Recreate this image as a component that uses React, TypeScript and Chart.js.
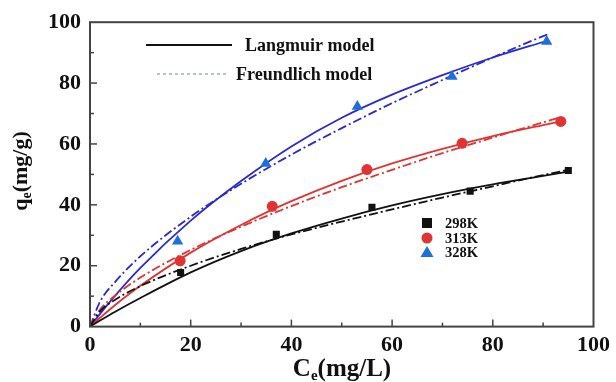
import React, { useEffect, useRef } from 'react';
import { Chart, registerables } from 'chart.js';
Chart.register(...registerables);

// ---- data ----
const tickValues = [0, 20, 40, 60, 80, 100];
const seriesNames = ['298K', '313K', '328K'];

const pointsX298 = [18, 37, 56, 75.5, 95];
const pointsY298 = [17.8, 30.3, 39.2, 44.5, 51.3];
const pointsX313 = [17.9, 36.2, 55, 73.9, 93.5];
const pointsY313 = [21.6, 39.5, 51.6, 60.2, 67.4];
const pointsX328 = [17.4, 34.9, 53.1, 71.9, 90.7];
const pointsY328 = [28, 53.6, 72.3, 82.2, 93.7];

const curveX298 = [0, 2, 5, 10, 20, 30, 40, 50, 60, 70, 80, 90, 95];
const langY298 = [0, 2.0, 4.9, 9.4, 17.8, 24.8, 30.6, 35.5, 39.8, 43.5, 46.7, 49.5, 50.9];
const freuY298 = [0, 5.1, 8.8, 13.3, 20.0, 25.5, 30.3, 34.5, 38.5, 42.4, 46.1, 49.8, 51.5];

const curveX313 = [0, 2, 5, 10, 20, 30, 40, 50, 60, 70, 80, 90, 93.5];
const langY313 = [0, 2.9, 7.1, 13.4, 24.3, 33.4, 41.2, 47.9, 53.6, 58.4, 62.6, 66.2, 67.4];
const freuY313 = [0, 5.6, 10.2, 16.1, 25.2, 32.8, 39.6, 45.8, 51.5, 57.0, 62.1, 67.1, 68.8];

const curveX328 = [0, 2, 5, 10, 20, 30, 40, 50, 60, 70, 80, 90, 91];
const langY328 = [0, 4.2, 10.2, 19.3, 34.8, 47.8, 59.2, 68.6, 76.2, 82.6, 88.4, 93.5, 94.0];
const freuY328 = [0, 8.2, 14.7, 23.1, 36.1, 46.9, 56.5, 65.2, 73.4, 81.0, 88.4, 95.4, 96.0];

const BLACK = '#111111';
const RED = '#e03434';
const BLUE_LINE = '#2a2ad0';
const BLUE_MARK = '#1f6fd8';
const FONT = "'Liberation Serif', 'Times New Roman', serif";

const zip = (xs: number[], ys: number[]) => xs.map((x, i) => ({ x, y: ys[i] }));

const decorPlugin = {
  id: 'decor',
  afterDraw(chart: any) {
    const { ctx, chartArea } = chart;
    const xs = chart.scales.x;
    const ys = chart.scales.y;
    const { left, right, top, bottom } = chartArea;
    ctx.save();
    // frame
    ctx.strokeStyle = '#444';
    ctx.lineWidth = 2;
    ctx.strokeRect(left, top, right - left, bottom - top);
    // inward ticks
    ctx.lineWidth = 1.5;
    for (let v = 10; v < 100; v += 10) {
      const major = v % 20 === 0;
      const len = major ? 7 : 4;
      const px = xs.getPixelForValue(v);
      ctx.beginPath();
      ctx.moveTo(px, bottom);
      ctx.lineTo(px, bottom - len);
      ctx.stroke();
      const py = ys.getPixelForValue(v);
      ctx.beginPath();
      ctx.moveTo(left, py);
      ctx.lineTo(left + len, py);
      ctx.stroke();
    }
    // axis titles
    ctx.fillStyle = '#111';
    ctx.textBaseline = 'alphabetic';
    const big = `bold 25px ${FONT}`;
    const small = `bold 15px ${FONT}`;
    // x title
    {
      const a = 'C', b = 'e', c = '(mg/L)';
      ctx.font = big; const wa = ctx.measureText(a).width; const wc = ctx.measureText(c).width;
      ctx.font = small; const wb = ctx.measureText(b).width;
      const total = wa + wb + wc;
      const x0 = 342 - total / 2;
      const y0 = 376;
      ctx.font = big; ctx.fillText(a, x0, y0);
      ctx.font = small; ctx.fillText(b, x0 + wa, y0 + 4);
      ctx.font = big; ctx.fillText(c, x0 + wa + wb, y0);
    }
    // y title
    {
      const a = 'q', b = 'e', c = '(mg/g)';
      ctx.save();
      ctx.translate(27, 171);
      ctx.rotate(-Math.PI / 2);
      ctx.font = `bold 22px ${FONT}`; const wa = ctx.measureText(a).width; const wc = ctx.measureText(c).width;
      ctx.font = `bold 14px ${FONT}`; const wb = ctx.measureText(b).width;
      const total = wa + wb + wc;
      const x0 = -total / 2;
      ctx.font = `bold 22px ${FONT}`; ctx.fillText(a, x0, 0);
      ctx.font = `bold 14px ${FONT}`; ctx.fillText(b, x0 + wa, 4);
      ctx.font = `bold 22px ${FONT}`; ctx.fillText(c, x0 + wa + wb, 0);
      ctx.restore();
    }
    // model legend
    ctx.font = `bold 18px ${FONT}`;
    ctx.textBaseline = 'middle';
    ctx.strokeStyle = BLACK;
    ctx.lineWidth = 2;
    ctx.setLineDash([]);
    ctx.beginPath(); ctx.moveTo(146, 45); ctx.lineTo(232, 45); ctx.stroke();
    ctx.fillText('Langmuir model', 245, 46);
    ctx.strokeStyle = '#b8c0d8';
    ctx.setLineDash([3, 3]);
    ctx.beginPath(); ctx.moveTo(157, 74); ctx.lineTo(228, 74); ctx.stroke();
    ctx.setLineDash([]);
    ctx.fillText('Freundlich model', 236, 75);
    // marker legend
    ctx.font = `bold 14.5px ${FONT}`;
    const lx = 427, ly = [223, 238, 252];
    ctx.fillStyle = BLACK;
    ctx.fillRect(lx - 5, ly[0] - 5, 10, 10);
    ctx.fillStyle = RED;
    ctx.beginPath(); ctx.arc(lx, ly[1], 5.5, 0, Math.PI * 2); ctx.fill();
    ctx.fillStyle = BLUE_MARK;
    ctx.beginPath(); ctx.moveTo(lx, ly[2] - 6); ctx.lineTo(lx + 6.5, ly[2] + 5); ctx.lineTo(lx - 6.5, ly[2] + 5); ctx.closePath(); ctx.fill();
    ctx.fillStyle = '#111';
    seriesNames.forEach((n, i) => ctx.fillText(n, 445, ly[i] + 1));
    ctx.restore();
  },
};

export default function App() {
  const ref = useRef<HTMLCanvasElement>(null);
  useEffect(() => {
    if (!ref.current) return;
    const lineDs = (label: string, xs: number[], ys: number[], color: string, dashed: boolean) => ({
      type: 'line' as const,
      label,
      data: zip(xs, ys),
      borderColor: color,
      backgroundColor: color,
      borderWidth: 1.8,
      borderDash: dashed ? [9, 3, 2, 3] : [],
      pointRadius: 0,
      showLine: true,
      fill: false,
      tension: 0.4,
      cubicInterpolationMode: 'monotone' as const,
      order: 2,
    });
    const pointDs = (label: string, xs: number[], ys: number[], color: string, style: string, r: number) => ({
      type: 'scatter' as const,
      label,
      data: zip(xs, ys),
      backgroundColor: color,
      borderColor: color,
      borderWidth: 0,
      pointStyle: style,
      pointRadius: r,
      showLine: false,
      order: 0,
    });
    const chart = new Chart(ref.current, {
      type: 'scatter',
      data: {
        datasets: [
          pointDs(seriesNames[0], pointsX298, pointsY298, BLACK, 'rect', 5),
          pointDs(seriesNames[1], pointsX313, pointsY313, RED, 'circle', 5.5),
          pointDs(seriesNames[2], pointsX328, pointsY328, BLUE_MARK, 'triangle', 6.5),
          lineDs('Langmuir 298K', curveX298, langY298, BLACK, false),
          lineDs('Freundlich 298K', curveX298, freuY298, BLACK, true),
          lineDs('Langmuir 313K', curveX313, langY313, RED, false),
          lineDs('Freundlich 313K', curveX313, freuY313, RED, true),
          lineDs('Langmuir 328K', curveX328, langY328, BLUE_LINE, false),
          lineDs('Freundlich 328K', curveX328, freuY328, BLUE_LINE, true),
        ] as any,
      },
      options: {
        responsive: false,
        animation: false,
        layout: { padding: { left: 39, right: 21, top: 19, bottom: 17 } },
        plugins: { legend: { display: false }, tooltip: { enabled: false } },
        scales: {
          x: {
            type: 'linear', min: 0, max: 100,
            afterBuildTicks: (s: any) => { s.ticks = tickValues.map((v) => ({ value: v })); },
            grid: { display: false, drawTicks: false },
            border: { display: false },
            ticks: { color: '#111', padding: 6, font: { family: FONT, size: 22, weight: 'bold' } },
          },
          y: {
            type: 'linear', min: 0, max: 100,
            afterBuildTicks: (s: any) => { s.ticks = tickValues.map((v) => ({ value: v })); },
            grid: { display: false, drawTicks: false },
            border: { display: false },
            ticks: { color: '#111', padding: 9, font: { family: FONT, size: 22, weight: 'bold' } },
          },
        },
      } as any,
      plugins: [decorPlugin],
    });
    return () => chart.destroy();
  }, []);
  return (
    <div style={{ position: 'fixed', left: 0, top: 0, width: 616, height: 382, background: '#fff' }}>
      <canvas ref={ref} width={616} height={382} style={{ width: 616, height: 382, display: 'block' }} />
    </div>
  );
}
